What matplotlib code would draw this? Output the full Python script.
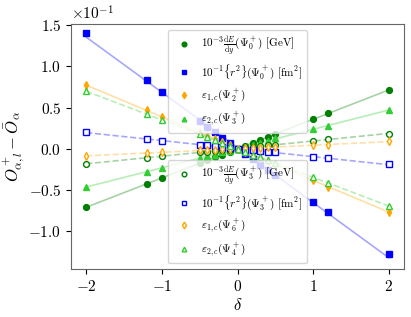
import numpy as np
import matplotlib
matplotlib.use("Agg")
import matplotlib.pyplot as plt

plt.rcParams['font.family'] = 'serif'
plt.rcParams['font.serif'] = ['cmr10']
plt.rcParams['mathtext.fontset'] = 'cm'
plt.rcParams['axes.formatter.use_mathtext'] = True
plt.rcParams['axes.unicode_minus'] = True

delta = [-2, -1.2, -1, -0.5, -0.4, -0.3, -0.2, -0.1, 0, 0.1, 0.2, 0.3, 0.4, 0.5, 1, 1.2, 2]

# values in units of 1e-1
dE_psi0 = [-0.71, -0.43, -0.355, -0.175, -0.14, -0.105, -0.07, -0.035, 0, 0.037, 0.075, 0.11, 0.145, 0.185, 0.36, 0.43, 0.71]
r2_psi0 = [1.41, 0.83, 0.69, 0.34, 0.27, 0.20, 0.135, 0.07, 0, -0.065, -0.13, -0.195, -0.26, -0.32, -0.65, -0.77, -1.28]
eps1_psi2 = [0.77, 0.47, 0.39, 0.195, 0.155, 0.115, 0.08, 0.04, 0, -0.04, -0.075, -0.115, -0.15, -0.19, -0.38, -0.46, -0.77]
eps2_psi3 = [-0.46, -0.28, -0.235, -0.115, -0.09, -0.07, -0.045, -0.022, 0, 0.025, 0.05, 0.075, 0.10, 0.125, 0.24, 0.28, 0.47]

dE_psi3 = [-0.18, -0.11, -0.09, -0.045, -0.035, -0.027, -0.018, -0.009, 0, 0.01, 0.02, 0.03, 0.04, 0.05, 0.10, 0.12, 0.18]
r2_psi3 = [0.20, 0.12, 0.10, 0.05, 0.04, 0.03, 0.02, 0.01, 0, -0.01, -0.02, -0.03, -0.04, -0.045, -0.10, -0.11, -0.19]
eps1_psi6 = [-0.09, -0.05, -0.04, -0.02, -0.016, -0.012, -0.008, -0.004, 0, 0.004, 0.008, 0.012, 0.016, 0.02, 0.04, 0.05, 0.09]
eps2_psi4 = [0.70, 0.42, 0.35, 0.18, 0.14, 0.105, 0.07, 0.035, 0, -0.035, -0.07, -0.105, -0.14, -0.175, -0.34, -0.41, -0.70]

eps1_psi2_err = [0.02, 0.015, 0.015, 0.01, 0.01, 0.01, 0.008, 0.006, 0.005, 0.006, 0.008, 0.01, 0.01, 0.01, 0.015, 0.015, 0.02]
eps1_psi6_err = [0.015, 0.012, 0.012, 0.01, 0.01, 0.008, 0.008, 0.006, 0.005, 0.006, 0.008, 0.008, 0.01, 0.01, 0.012, 0.012, 0.015]

labels_top = [r'$10^{-3}\frac{\mathrm{d}E}{\mathrm{d}y}(\Psi_0^+)$ [GeV]',
              r'$10^{-1}\{r^2\}(\Psi_0^+)$ [fm$^2$]',
              r'$\varepsilon_{1,c}(\Psi_2^+)$',
              r'$\varepsilon_{2,c}(\Psi_3^+)$']
labels_bot = [r'$10^{-3}\frac{\mathrm{d}E}{\mathrm{d}y}(\Psi_3^+)$ [GeV]',
              r'$10^{-1}\{r^2\}(\Psi_3^+)$ [fm$^2$]',
              r'$\varepsilon_{1,c}(\Psi_6^+)$',
              r'$\varepsilon_{2,c}(\Psi_4^+)$']

x = np.array(delta)
scale = 0.1

fig = plt.figure(figsize=(4.11, 3.17), dpi=100)
ax = fig.add_axes([71/411, 1 - 269/317, (404-71)/411, (269-24)/317])

xl = np.array([-2, 2])

def fitline(y, color, ls):
    p = np.polyfit(x, np.array(y) * scale, 1)
    ax.plot(xl, np.polyval(p, xl), color=color, ls=ls, lw=1.2, alpha=0.35, zorder=1)

series_filled = [
    (dE_psi0, 'green', 'o', None),
    (r2_psi0, 'blue', 's', None),
    (eps1_psi2, 'orange', 'd', eps1_psi2_err),
    (eps2_psi3, 'limegreen', '^', None),
]
series_open = [
    (dE_psi3, 'green', 'o', None),
    (r2_psi3, 'blue', 's', None),
    (eps1_psi6, 'orange', 'd', eps1_psi6_err),
    (eps2_psi4, 'limegreen', '^', None),
]

h_top = []
for (y, c, m, err), lab in zip(series_filled, labels_top):
    fitline(y, c, '-')
    yy = np.array(y) * scale
    if err is not None:
        ax.errorbar(x, yy, yerr=np.array(err) * scale, fmt='none', ecolor=c, elinewidth=0.8, zorder=2)
    h, = ax.plot(x, yy, ls='none', marker=m, color=c, ms=4.2, zorder=3, label=lab)
    h_top.append(h)

h_bot = []
for (y, c, m, err), lab in zip(series_open, labels_bot):
    fitline(y, c, '--')
    yy = np.array(y) * scale
    if err is not None:
        ax.errorbar(x, yy, yerr=np.array(err) * scale, fmt='none', ecolor=c, elinewidth=0.8, zorder=2)
    h, = ax.plot(x, yy, ls='none', marker=m, color=c, mfc='white', mew=1.0, ms=4.2, zorder=3, label=lab)
    h_bot.append(h)

ax.set_xlim(-2.2, 2.2)
ax.set_ylim(-0.146, 0.1515)
ax.set_xticks([-2, -1, 0, 1, 2])
ax.set_yticks([-0.1, -0.05, 0, 0.05, 0.1, 0.15])
ax.ticklabel_format(axis='y', style='sci', scilimits=(0, 0))
ax.tick_params(labelsize=11)
ax.yaxis.get_offset_text().set_fontsize(11)
ax.set_xlabel(r'$\delta$', fontsize=12, labelpad=2)
ax.set_ylabel(r'$O_{\alpha,l}^+ - \bar{O}_\alpha$', fontsize=12, labelpad=2)
for s in ax.spines.values():
    s.set_color('0.4')

lkw = dict(fontsize=8, framealpha=0.8, handletextpad=0.6, markerscale=0.8,
           labelspacing=0.45, borderpad=0.4)
leg1 = ax.legend(handles=h_top, loc='upper center', **lkw)
ax.add_artist(leg1)
ax.legend(handles=h_bot, loc='lower center', **lkw)

fig.savefig('out.png', dpi=100)
